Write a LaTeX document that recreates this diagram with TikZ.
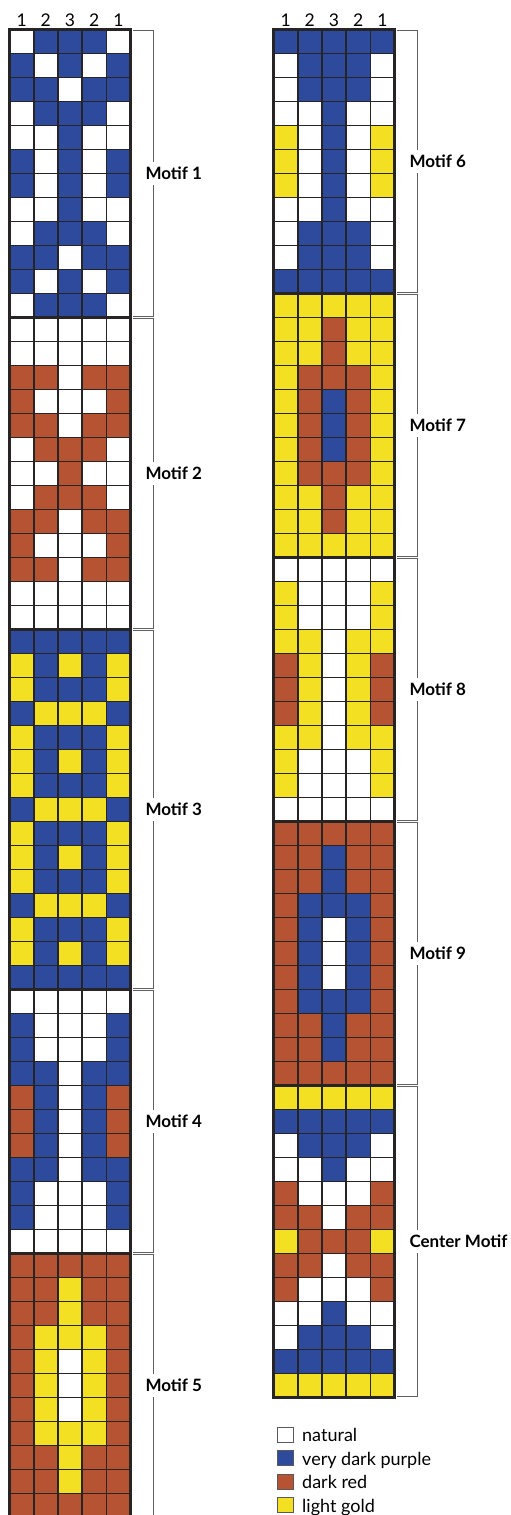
\documentclass[tikz,border=0pt]{standalone}
\usepackage{fontspec}
\setmainfont{Lato}
\usepackage{tikz}
\definecolor{N}{RGB}{255,255,255}
\definecolor{P}{RGB}{46,74,156}
\definecolor{R}{RGB}{181,83,50}
\definecolor{G}{RGB}{244,224,34}
\definecolor{gridink}{RGB}{38,36,36}
\definecolor{braceink}{RGB}{95,95,95}
\newcommand{\cellw}{24.2}
\newcommand{\cellh}{24}
\newcommand{\gridtop}{29.5}
% one run of rows: #1 = left edge, #2 = index of first row, #3 = the rows
\newcommand{\band}[3]{%
  \foreach \ca/\cb/\cc/\cd/\ce [count=\r from #2] in {#3} {
    \foreach \col [count=\k from 0] in {\ca,\cb,\cc,\cd,\ce}
      \fill[fill=\col] (#1+\k*\cellw, \gridtop+\r*\cellh) rectangle ++(\cellw,\cellh);
  }}

\begin{document}
\begin{tikzpicture}[x=1pt,y=-1pt,
  gridline/.style={gridink,line width=1.6pt},
  bandline/.style={gridink,line width=2.6pt},
  frameline/.style={gridink,line width=2.8pt},
  bracket/.style={braceink,line width=1.4pt},
  motiflabel/.style={fill=white,inner xsep=3pt,inner ysep=5pt,anchor=west,
    font=\fontsize{17}{20}\selectfont\bfseries},
  colnum/.style={anchor=base,inner sep=0pt,font=\fontsize{17.5}{20}\selectfont},
  swatch/.style={draw=gray!70!black,line width=0.8pt,minimum width=16pt,
    minimum height=15pt,inner sep=0pt},
  keytext/.style={anchor=base west,inner sep=0pt,font=\fontsize{18}{20}\selectfont}]
  \useasboundingbox (0,0) rectangle (511,1515);
  \clip (0,0) rectangle (511,1515);

  % left strip, motifs 1 to 5
  \band{9.5}{0}{N/P/P/P/N, P/N/P/N/P, P/P/N/P/P, N/P/P/P/N, N/N/P/N/N, P/N/P/N/P,
    P/N/P/N/P, N/N/P/N/N, N/P/P/P/N, P/P/N/P/P, P/N/P/N/P, N/P/P/P/N}
  \band{9.5}{12}{N/N/N/N/N, N/N/N/N/N, R/R/N/R/R, R/N/N/N/R, R/R/N/R/R, N/R/R/R/N,
    N/N/R/N/N, N/R/R/R/N, R/R/N/R/R, R/N/N/N/R, R/R/N/R/R, N/N/N/N/N, N/N/N/N/N}
  \band{9.5}{25}{P/P/P/P/P, G/P/G/P/G, G/P/P/P/G, P/G/G/G/P, G/P/P/P/G, G/P/G/P/G,
    G/P/P/P/G, P/G/G/G/P, G/P/P/P/G, G/P/G/P/G, G/P/P/P/G, P/G/G/G/P, G/P/P/P/G,
    G/P/G/P/G, P/P/P/P/P}
  \band{9.5}{40}{N/N/N/N/N, P/N/N/N/P, P/N/N/N/P, P/P/N/P/P, R/P/N/P/R, R/P/N/P/R,
    R/P/N/P/R, P/P/N/P/P, P/N/N/N/P, P/N/N/N/P, N/N/N/N/N}
  \band{9.5}{51}{R/R/R/R/R, R/R/G/R/R, R/R/G/R/R, R/G/G/G/R, R/G/N/G/R, R/G/N/G/R,
    R/G/N/G/R, R/G/G/G/R, R/R/G/R/R, R/R/G/R/R, R/R/R/R/R}

  % right strip, motifs 6 to 9 and the centre
  \band{273.5}{0}{P/P/P/P/P, N/P/P/P/N, N/P/P/P/N, N/N/P/N/N, G/N/P/N/G, G/N/P/N/G,
    G/N/P/N/G, N/N/P/N/N, N/P/P/P/N, N/P/P/P/N, P/P/P/P/P}
  \band{273.5}{11}{G/G/G/G/G, G/G/R/G/G, G/G/R/G/G, G/R/R/R/G, G/R/P/R/G, G/R/P/R/G,
    G/R/P/R/G, G/R/R/R/G, G/G/R/G/G, G/G/R/G/G, G/G/G/G/G}
  \band{273.5}{22}{N/N/N/N/N, G/N/N/N/G, G/N/N/N/G, G/G/N/G/G, R/G/N/G/R, R/G/N/G/R,
    R/G/N/G/R, G/G/N/G/G, G/N/N/N/G, G/N/N/N/G, N/N/N/N/N}
  \band{273.5}{33}{R/R/R/R/R, R/R/P/R/R, R/R/P/R/R, R/P/P/P/R, R/P/N/P/R, R/P/N/P/R,
    R/P/N/P/R, R/P/P/P/R, R/R/P/R/R, R/R/P/R/R, R/R/R/R/R}
  \band{273.5}{44}{G/G/G/G/G, P/P/P/P/P, N/P/P/P/N, N/N/P/N/N, R/N/N/N/R, R/R/N/R/R,
    G/R/R/R/G, R/R/N/R/R, R/N/N/N/R, N/N/P/N/N, N/P/P/P/N, P/P/P/P/P, G/G/G/G/G}

  % cell lines, motif seams and frames
  \foreach \xs/\rows in {9.5/62, 273.5/57} {
    \foreach \i in {0,...,5}
      \draw[gridline] (\xs+\i*\cellw, \gridtop) -- ++(0, \rows*\cellh);
    \foreach \j in {0,...,\rows}
      \draw[gridline] (\xs, \gridtop+\j*\cellh) -- ++(5*\cellw, 0);
    \draw[frameline] (\xs, \gridtop) rectangle ++(5*\cellw, \rows*\cellh);
  }
  \foreach \j in {12,25,40,51}
    \draw[bandline] (9.5, \gridtop+\j*\cellh) -- ++(5*\cellw, 0);
  \foreach \j in {11,22,33,44}
    \draw[bandline] (273.5, \gridtop+\j*\cellh) -- ++(5*\cellw, 0);

  % thread counts over the columns
  \foreach \xs/\side in {9.5/l, 273.5/r}
    \foreach \n [count=\k from 0] in {1,2,3,2,1}
      \node[colnum] (num\side\k) at (\xs+\k*\cellw+\cellw/2, 26) {\n};

  % brackets and motif names
  \foreach \bx/\top/\bot/\name/\txt in {153.3/0/12/mone/Motif 1, 153.3/12/25/mtwo/Motif 2,
      153.3/25/40/mthree/Motif 3, 153.3/40/51/mfour/Motif 4, 153.3/51/62/mfive/Motif 5,
      417.3/0/11/msix/Motif 6, 417.3/11/22/mseven/Motif 7, 417.3/22/33/meight/Motif 8,
      417.3/33/44/mnine/Motif 9, 417.3/44/57/mcenter/Center Motif} {
    \draw[bracket] (\bx-20.5, \gridtop+\top*\cellh+1) -- (\bx, \gridtop+\top*\cellh+1)
      |- (\bx-20.5, \gridtop+\bot*\cellh-1);
    \node[motiflabel] (\name) at (\bx-11, \gridtop+\top*\cellh/2+\bot*\cellh/2) {\txt};
  }

  % colour key
  \foreach \col/\txt [count=\i from 0] in {N/natural, P/very dark purple, R/dark red,
      G/light gold} {
    \node[swatch,fill=\col] (key\i) at (285.6, 1434.6+\i*23.4) {};
    \node[keytext] (keytxt\i) at (302, 1441.8+\i*23.4) {\txt};
  }
\end{tikzpicture}
\end{document}
